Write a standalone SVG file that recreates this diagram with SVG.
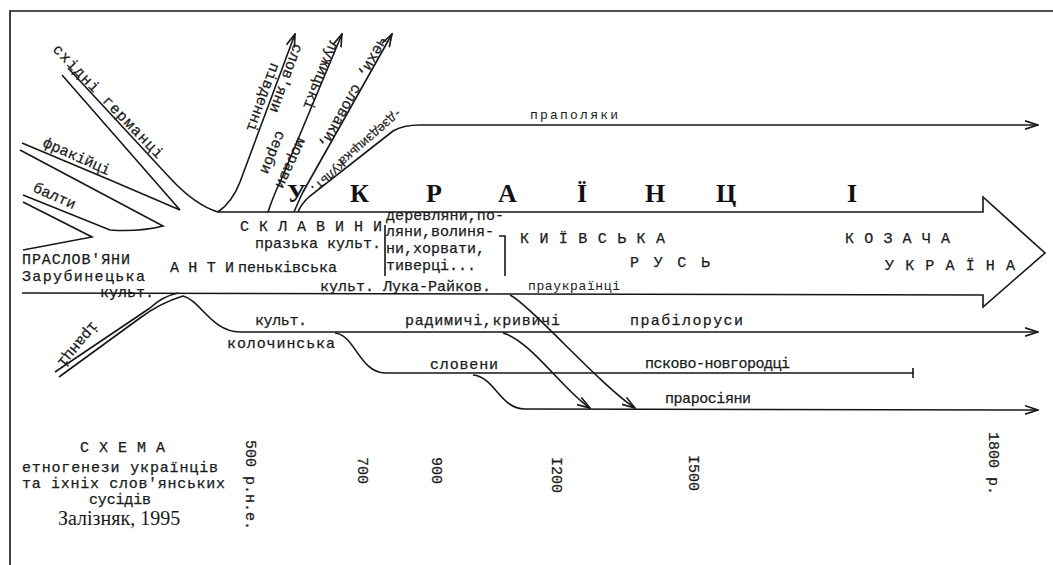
<svg xmlns="http://www.w3.org/2000/svg" width="1053" height="565" viewBox="0 0 1053 565">
<style>
.l{fill:none;stroke:#161616;stroke-width:1.6}
.t{font-family:"Liberation Mono","DejaVu Sans Mono",monospace;font-size:15px;fill:#1a1a1a;stroke:#1a1a1a;stroke-width:0.25}
.s{font-family:"Liberation Mono","DejaVu Sans Mono",monospace;font-size:13px;fill:#1a1a1a}
.m{font-family:"Liberation Mono","DejaVu Sans Mono",monospace;font-size:13px;fill:#1a1a1a;stroke:#1a1a1a;stroke-width:0.2}
.b{font-family:"Liberation Serif","Times New Roman",serif;font-size:26px;font-weight:bold;fill:#111}
.r{font-family:"Liberation Serif","Times New Roman",serif;font-size:20px;fill:#1a1a1a}
</style>
<defs>
<marker id="ah" markerWidth="14" markerHeight="10" refX="13" refY="5" orient="auto" markerUnits="userSpaceOnUse"><path d="M0,0.8 L13,5 L0,9.2" fill="none" stroke="#161616" stroke-width="1.6"/></marker>
</defs>
<rect width="1053" height="565" fill="#fff"/>
<path class="l" d="M10,565 V11 H1053"/>
<g id="connectors">
<path class="l" d="M68,68 L170,178 Q195,205 218,212 L983,212 L983,197 L1045,253 L983,307 L983,295 L22,293"/>
<path class="l" d="M62,75 L180,210 L110,180 L22,143"/>
<path class="l" d="M20,150 L163,226 Q140,232 110,230 L23,195"/>
<path class="l" d="M23,202 L92,237 L23,250"/>
<path class="l" d="M55,372 L150,308 Q163,296 178,293"/>
<path class="l" d="M59,377 L140,318 Q160,303 183,296 C200,300 212,332 240,332 L1038,332" marker-end="url(#ah)"/>
<path class="l" d="M218,212 C228,205 235,195 240,182 L295,34" marker-end="url(#ah)"/>
<path class="l" d="M268,212 C272,200 276,190 281,180 L342,34" marker-end="url(#ah)"/>
<path class="l" d="M294,212 C297,205 300,198 303,192 L392,34" marker-end="url(#ah)"/>
<path class="l" d="M298,212 Q301,204 310,196 L393,131 Q403,125 420,125 L1038,125" marker-end="url(#ah)"/>
<path class="l" d="M335,333 C355,335 360,373 385,373 L913,373 M913,368 V378"/>
<path class="l" d="M473,375 C495,377 500,409 525,409 L1038,410" marker-end="url(#ah)"/>
<path class="l" d="M503,333 C530,340 565,392 590,408" marker-end="url(#ah)"/>
<path class="l" d="M510,295 C530,305 600,385 635,408" marker-end="url(#ah)"/>
<path class="l" d="M385,225 V276 M499,236 H505 V276"/>
</g>
<g id="n-germantsi"><text class="t" transform="translate(52,50) rotate(46)" textLength="152">східні германці</text></g>
<g id="n-frakiitsi"><text class="t" transform="translate(42,146) rotate(24)">фракійці</text></g>
<g id="n-balty"><text class="t" transform="translate(32,191) rotate(24)">балти</text></g>
<g id="n-irantsi"><text class="t" transform="translate(92,321) rotate(130)">іранці</text></g>
<g id="n-praslov"><text class="t" x="22" y="264" textLength="108">ПРАСЛОВ'ЯНИ</text><text class="t" x="22" y="281" textLength="123">Зарубинецька</text><text class="t" x="100" y="297">культ.</text></g>
<g id="n-pivdenni"><text class="t" transform="translate(294,43) rotate(110)">слов'яни</text><text class="t" transform="translate(271,62) rotate(110)">південні</text></g>
<g id="n-serby"><text class="t" transform="translate(330,40) rotate(112)">лужицькі</text><text class="t" transform="translate(277,130) rotate(112)">серби</text><text class="t" transform="translate(298,137) rotate(115)">морави</text></g>
<g id="n-chekhy"><text class="t" transform="translate(380,36) rotate(119)">чехи, словаки,</text></g>
<g id="n-kultura"><text class="m" transform="translate(398,108) rotate(139)" textLength="80">-дзедзицька</text><text class="m" transform="translate(342,160) rotate(139)" textLength="44">культ.</text></g>
<g id="n-ukraintsi">
<text class="b" x="287" y="202">У</text><text class="b" x="350" y="202">К</text><text class="b" x="426" y="202">Р</text><text class="b" x="498" y="202">А</text><text class="b" x="577" y="202">Ї</text><text class="b" x="645" y="202">Н</text><text class="b" x="716" y="202">Ц</text><text class="b" x="847" y="202">І</text>
</g>
<g id="n-sklavyny"><text class="t" x="240" y="231" textLength="142">С К Л А В И Н И</text><text class="t" x="255" y="248">празька культ.</text></g>
<g id="n-anty"><text class="t" x="170" y="272" textLength="64">А Н Т И</text><text class="t" x="238" y="272">пеньківська</text><text class="t" x="320" y="291">культ. Лука-Райков.</text></g>
<g id="n-derevliany"><text class="t" x="386" y="220" textLength="118">деревляни,по-</text><text class="t" x="386" y="236">ляни,волиня-</text><text class="t" x="386" y="253">ни,хорвати,</text><text class="t" x="386" y="270">тиверці...</text></g>
<g id="n-kyivska"><text class="t" x="520" y="243" textLength="145">К И Ї В С Ь К А</text><text class="t" x="630" y="267" textLength="80">Р У С Ь</text></g>
<g id="n-kozacha"><text class="t" x="845" y="243" textLength="105">К О З А Ч А</text><text class="t" x="885" y="270" textLength="130">У К Р А Ї Н А</text></g>
<g id="n-praukr"><text class="s" x="528" y="290" textLength="92">праукраїнці</text></g>
<g id="n-prapoliaky"><text class="s" x="530" y="119" textLength="88">праполяки</text></g>
<g id="n-kolochyn"><text class="t" x="255" y="325" textLength="52">культ.</text><text class="t" x="227" y="348" textLength="108">колочинська</text></g>
<g id="n-radymychi"><text class="t" x="405" y="325" textLength="155">радимичі,кривичі</text></g>
<g id="n-prabilorusy"><text class="t" x="630" y="325" textLength="113">прабілоруси</text></g>
<g id="n-sloveny"><text class="t" x="430" y="369" textLength="68">словени</text></g>
<g id="n-pskovo"><text class="t" x="645" y="368" textLength="145">псково-новгородці</text></g>
<g id="n-prarosiiany"><text class="t" x="665" y="403" textLength="86">праросіяни</text></g>
<g id="n-title"><text class="t" x="80" y="452" textLength="85">С Х Е М А</text><text class="t" x="22" y="472" textLength="196">етногенези українців</text><text class="t" x="22" y="488" textLength="203">та іхніх слов'янських</text><text class="t" x="89" y="504" textLength="62">сусідів</text><text class="r" x="58" y="525">Залізняк, 1995</text></g>
<g id="n-years">
<text class="t" transform="translate(246,440) rotate(90)">500 р.н.е.</text>
<text class="t" transform="translate(358,457) rotate(90)">700</text>
<text class="t" transform="translate(432,457) rotate(90)">900</text>
<text class="t" transform="translate(552,457) rotate(90)">I200</text>
<text class="t" transform="translate(689,455) rotate(90)">I500</text>
<text class="t" transform="translate(989,432) rotate(90)">1800 р.</text>
</g>
</svg>
